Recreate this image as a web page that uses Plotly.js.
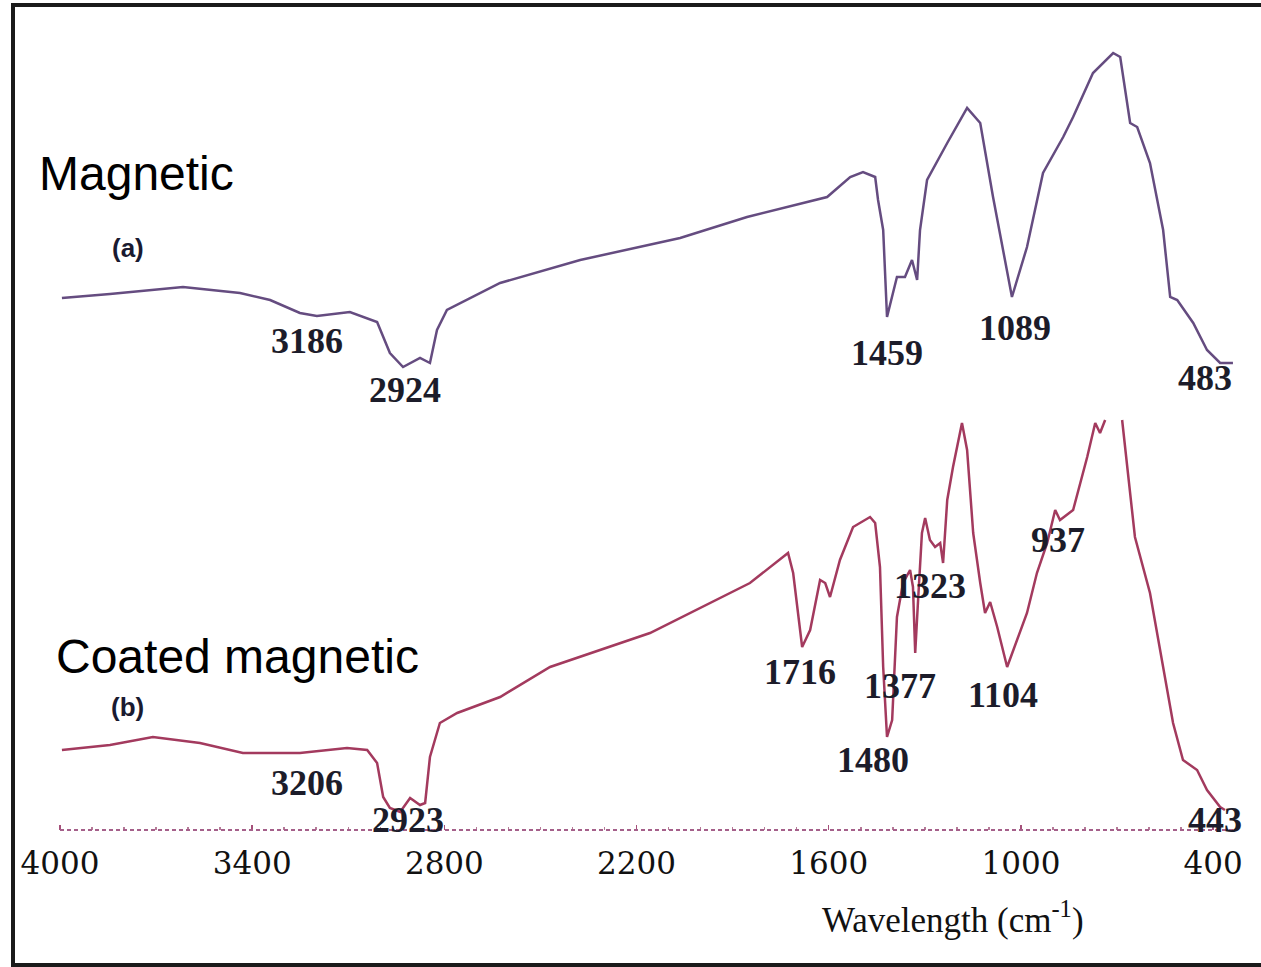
<!DOCTYPE html>
<html>
<head>
<meta charset="utf-8">
<script src="https://cdn.plot.ly/plotly-3.0.1.min.js"></script>
<style>
  html, body { margin: 0; padding: 0; background: #fff; overflow: hidden; }
  #chart { width: 1261px; height: 967px; }
  #frame { position: absolute; left: 11px; top: 3px; width: 1300px; height: 964px;
           box-sizing: border-box; border: 4px solid #1a1a1a; border-right: none; pointer-events: none; }
</style>
</head>
<body>
<div id="chart"></div>
<div id="frame"></div>
<script>
// Wavenumber (cm-1) and relative transmittance (arbitrary units)
const magneticX = [3994, 3844, 3616, 3438, 3344, 3251, 3198, 3095, 3010, 2970, 2929, 2876, 2845, 2823, 2792, 2729, 2626, 2376, 2064, 1855, 1649, 1605, 1533, 1493, 1455, 1446, 1430, 1418, 1387, 1362, 1340, 1324, 1315, 1293, 1230, 1168, 1127, 1087, 1028, 981, 931, 868, 837, 775, 712, 690, 659, 637, 597, 556, 534, 512, 462, 419, 378, 338];
const magneticY = [53.2, 53.6, 54.3, 53.7, 53.0, 51.7, 51.4, 51.8, 50.8, 47.7, 46.3, 47.2, 46.7, 50.0, 52.0, 53.0, 54.7, 57.0, 59.2, 61.3, 63.0, 63.3, 65.3, 65.8, 65.3, 63.0, 60.0, 51.3, 55.3, 55.3, 57.0, 55.0, 60.0, 65.0, 68.7, 72.2, 70.7, 63.3, 53.3, 58.3, 65.7, 69.3, 71.3, 75.7, 77.7, 77.3, 70.7, 70.3, 66.7, 60.0, 53.3, 53.0, 50.7, 48.0, 46.7, 46.7];

const coatedX = [3994, 3844, 3710, 3563, 3429, 3251, 3104, 3041, 3010, 2991, 2970, 2938, 2907, 2876, 2860, 2845, 2814, 2760, 2626, 2470, 2158, 1846, 1727, 1711, 1683, 1658, 1627, 1611, 1596, 1565, 1524, 1471, 1455, 1440, 1430, 1418, 1402, 1387, 1368, 1346, 1337, 1330, 1321, 1309, 1299, 1284, 1268, 1252, 1243, 1230, 1212, 1184, 1168, 1149, 1127, 1112, 1096, 1074, 1043, 1012, 981, 950, 918, 893, 878, 837, 815, 793, 768, 753, 737, 710, 684, 644, 597, 556, 525, 494, 450, 419, 378, 363];
const coatedY = [8.0, 8.5, 9.3, 8.7, 7.7, 7.7, 8.2, 8.0, 6.7, 3.3, 2.2, 1.8, 3.2, 2.5, 2.7, 7.3, 10.7, 11.7, 13.3, 16.3, 19.7, 24.7, 27.7, 25.7, 18.3, 20.0, 25.0, 24.7, 23.3, 27.0, 30.3, 31.3, 30.7, 26.3, 16.3, 9.3, 11.0, 21.3, 24.7, 26.0, 24.3, 17.7, 23.0, 29.7, 31.2, 29.0, 28.3, 28.7, 26.7, 33.0, 36.3, 40.7, 38.0, 29.7, 24.7, 21.7, 22.8, 20.3, 16.3, 19.0, 21.7, 25.7, 28.7, 32.0, 31.0, 32.0, 34.7, 37.3, 40.7, 39.7, 41.0, null, 41.0, 29.3, 23.7, 16.3, 10.7, 7.0, 6.0, 4.0, 2.3, 2.0];

const tickValues = [4000, 3400, 2800, 2200, 1600, 1000, 400];
const tickLabels = ['4000', '3400', '2800', '2200', '1600', '1000', '400'];

// Peak labels: text, label position (wavenumber, transmittance)
const peakLabelsA = ['3186', '2924', '1459', '1089', '483'];
const peakLabelsAX = [3229, 2923, 1418, 1018, 425];
const peakLabelsAY = [48.9, 44.0, 47.7, 50.2, 45.2];
const peakLabelsB = ['3206', '2923', '1716', '1480', '1377', '1323', '1104', '937', '443'];
const peakLabelsBX = [3229, 2915, 1689, 1462, 1377, 1284, 1056, 884, 394];
const peakLabelsBY = [4.7, 1.0, 15.8, 7.0, 14.4, 24.4, 13.5, 29.0, 1.0];

const peakFont = {family: 'Liberation Serif, Times New Roman, serif', size: 36, color: '#1c1c2a', weight: 'bold'};

const annotations = [];
peakLabelsA.forEach((t, i) => annotations.push({x: peakLabelsAX[i], y: peakLabelsAY[i], xref: 'x', yref: 'y', xanchor: 'center', yanchor: 'middle', text: '<b>' + t + '</b>', showarrow: false, font: peakFont}));
peakLabelsB.forEach((t, i) => annotations.push({x: peakLabelsBX[i], y: peakLabelsBY[i], xref: 'x', yref: 'y', xanchor: 'center', yanchor: 'middle', text: '<b>' + t + '</b>', showarrow: false, font: peakFont}));

annotations.push(
  {x: -0.0152, y: 0.8316, xref: 'paper', yref: 'paper', xanchor: 'left', yanchor: 'middle', text: 'Magnetic', showarrow: false,
   font: {family: 'Liberation Sans, Arial, sans-serif', size: 48, color: '#000'}},
  {x: -0.0008, y: 0.219, xref: 'paper', yref: 'paper', xanchor: 'left', yanchor: 'middle', text: 'Coated magnetic', showarrow: false,
   font: {family: 'Liberation Sans, Arial, sans-serif', size: 48, color: '#000'}},
  {x: 0.0616, y: 0.737, xref: 'paper', yref: 'paper', xanchor: 'center', yanchor: 'middle', text: '<b>(a)</b>', showarrow: false,
   font: {family: 'Liberation Sans, Arial, sans-serif', size: 26, color: '#1a1a30'}},
  {x: 0.0616, y: 0.1557, xref: 'paper', yref: 'paper', xanchor: 'center', yanchor: 'middle', text: '<b>(b)</b>', showarrow: false,
   font: {family: 'Liberation Sans, Arial, sans-serif', size: 26, color: '#1a1a30'}},
  {x: 0.758, y: -0.111, xref: 'paper', yref: 'paper', xanchor: 'center', yanchor: 'middle', text: 'Wavelength (cm<sup>-1</sup>)', showarrow: false,
   font: {family: 'Liberation Serif, Times New Roman, serif', size: 35, color: '#111'}}
);

const traces = [
  {x: magneticX, y: magneticY, type: 'scatter', mode: 'lines', name: 'Magnetic',
   line: {color: '#654c80', width: 2.5}, connectgaps: false, cliponaxis: false},
  {x: coatedX, y: coatedY, type: 'scatter', mode: 'lines', name: 'Coated magnetic',
   line: {color: '#a33a5e', width: 2.5}, connectgaps: false, cliponaxis: false}
];

const layout = {
  width: 1261, height: 967,
  margin: {l: 55, r: 21, t: 40, b: 137},
  paper_bgcolor: '#fff', plot_bgcolor: '#fff',
  showlegend: false,
  xaxis: {
    range: [4015.6, 316], showgrid: false, zeroline: false, showline: false,
    tickmode: 'array', tickvals: tickValues, ticktext: tickLabels,
    ticks: 'inside', ticklen: 5, tickcolor: '#a5507a', tickwidth: 1.5,
    minor: {dtick: 100, tick0: 0, ticks: 'inside', ticklen: 3, tickcolor: '#b57a98', showgrid: false},
    ticklabelstandoff: 12,
    tickfont: {family: 'DejaVu Serif, serif', size: 31, color: '#111'}
  },
  yaxis: {range: [0, 79], visible: false, showgrid: false, zeroline: false},
  shapes: [
    {type: 'line', xref: 'x', yref: 'paper', x0: 4000, x1: 330, y0: 0, y1: 0, layer: 'above',
     line: {color: '#a5608a', width: 2, dash: '4px,3px'}}
  ],
  annotations: annotations
};

Plotly.newPlot('chart', traces, layout, {displayModeBar: false, staticPlot: true});
</script>
</body>
</html>
